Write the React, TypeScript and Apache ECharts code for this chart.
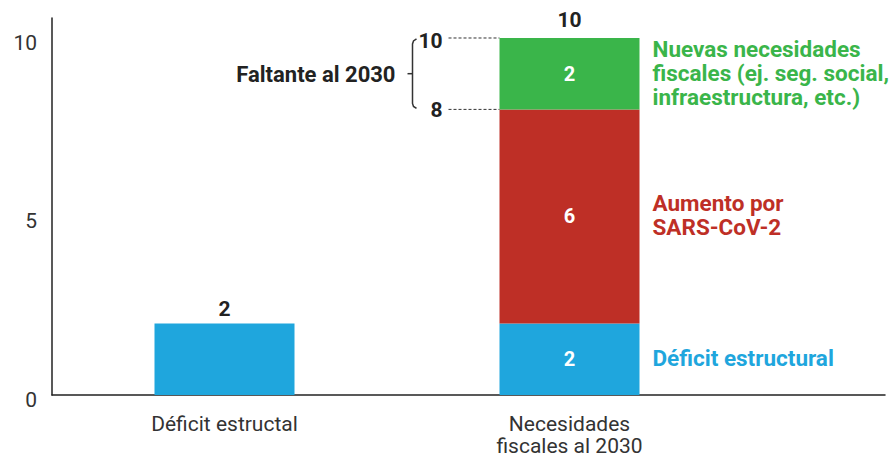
import React, { useEffect, useRef } from "react";
import * as echarts from "echarts";

const categories = ["Déficit estructal", "Necesidades\nfiscales al 2030"];
const deficitValues: (number | string)[] = [2, 2];
const sarsValues: (number | string)[] = ["-", 6];
const nuevasValues: (number | string)[] = ["-", 2];
const seriesNames = [
  "Déficit estructural",
  "Aumento por\nSARS-CoV-2",
  "Nuevas necesidades\nfiscales (ej. seg. social,\ninfraestructura, etc.)",
];
const seriesColors = ["#1FA6DD", "#BE2F26", "#3AB54A"];
const yTicks = [0, 5, 10];
const gapLabel = "Faltante al 2030";

const FONT = "Roboto";

export default function App() {
  const ref = useRef<HTMLDivElement>(null);
  useEffect(() => {
    if (!ref.current) return;
    document.body.style.margin = "0";
    const chart = echarts.init(ref.current, undefined, { renderer: "svg" });
    const insideLabel = {
      show: true,
      position: "inside",
      color: "#fff",
      fontWeight: "bold",
      fontSize: 20,
      fontFamily: FONT,
    };
    const mkData = (vals: (number | string)[], topFirst: boolean) =>
      vals.map((v, i) =>
        i === 0 && topFirst
          ? {
              value: v,
              label: {
                show: true,
                position: "top",
                distance: 4,
                color: "#222",
                fontWeight: "bold",
                fontSize: 21,
                fontFamily: FONT,
              },
            }
          : { value: v, label: insideLabel }
      );
    const axisLineStyle = { color: "#222", width: 1.5 };
    chart.setOption({
      animation: false,
      textStyle: { fontFamily: FONT },
      grid: [
        { left: 52, width: 690, top: 18, bottom: 63 },
        { left: 52, right: 8, top: 18, bottom: 63 },
      ],
      xAxis: [
        {
          type: "category",
          gridIndex: 0,
          data: categories,
          axisLine: { show: false },
          axisTick: { show: false },
          axisLabel: {
            fontSize: 21,
            color: "#333",
            fontFamily: FONT,
            margin: 18,
            lineHeight: 22,
          },
        },
        {
          type: "value",
          gridIndex: 1,
          min: 0,
          max: 1,
          axisLine: { show: true, lineStyle: axisLineStyle },
          axisTick: { show: false },
          axisLabel: { show: false },
          splitLine: { show: false },
        },
      ],
      yAxis: [
        {
          type: "value",
          gridIndex: 0,
          min: 0,
          max: 10.56,
          interval: 5,
          axisLine: { show: true, lineStyle: axisLineStyle },
          axisTick: { show: false },
          splitLine: { show: false },
          axisLabel: {
            fontSize: 21,
            color: "#333",
            fontFamily: FONT,
            margin: 15,
            verticalAlign: "top",
            lineHeight: 10,
            showMaxLabel: false,
            formatter: (v: number) => (yTicks.includes(v) ? String(v) : ""),
          },
        },
        {
          type: "value",
          gridIndex: 1,
          min: 0,
          max: 1,
          show: false,
        },
      ],
      series: [
        {
          type: "bar",
          name: seriesNames[0],
          stack: "a",
          barWidth: 140,
          xAxisIndex: 0,
          yAxisIndex: 0,
          itemStyle: { color: seriesColors[0] },
          data: mkData(deficitValues, true),
        },
        {
          type: "bar",
          name: seriesNames[1],
          stack: "a",
          barWidth: 140,
          xAxisIndex: 0,
          yAxisIndex: 0,
          itemStyle: { color: seriesColors[1] },
          data: mkData(sarsValues, false),
        },
        {
          type: "bar",
          name: seriesNames[2],
          stack: "a",
          barWidth: 140,
          xAxisIndex: 0,
          yAxisIndex: 0,
          itemStyle: { color: seriesColors[2] },
          data: mkData(nuevasValues, false),
        },
      ],
    });

    // annotations derived from data via the chart's own scales
    const idx = 1;
    const segs = [deficitValues[idx], sarsValues[idx], nuevasValues[idx]].map(
      (v) => (typeof v === "number" ? v : 0)
    );
    const total = segs.reduce((a, b) => a + b, 0);
    const gapBottom = total - segs[2];
    const px = (v: number) =>
      chart.convertToPixel({ xAxisIndex: 0, yAxisIndex: 0 }, [idx, v]) as number[];
    const cx = px(0)[0];
    const barLeft = cx - 70;
    const barRight = cx + 70;
    const yTop = px(total)[1];
    const yGapB = px(gapBottom)[1];

    const graphics: any[] = [];
    graphics.push({
      type: "text",
      x: cx,
      y: yTop - 18,
      style: {
        text: String(total),
        fill: "#222",
        font: `bold 21px ${FONT}`,
        textAlign: "center",
        textVerticalAlign: "middle",
      },
    });
    let cum = 0;
    segs.forEach((s, i) => {
      const mid = cum + s / 2;
      cum += s;
      graphics.push({
        type: "text",
        x: barRight + 13,
        y: px(mid)[1] - 1,
        style: {
          text: seriesNames[i],
          fill: seriesColors[i],
          font: `bold 22.5px ${FONT}`,
          lineHeight: 24,
          textAlign: "left",
          textVerticalAlign: "middle",
        },
      });
    });
    [
      [total, yTop, 3],
      [gapBottom, yGapB, 1],
    ].forEach(([v, y, dy]) => {
      graphics.push({
        type: "line",
        shape: { x1: barLeft - 51, y1: y, x2: barLeft, y2: y },
        style: { stroke: "#333", lineWidth: 1, lineDash: [3, 2] },
      });
      graphics.push({
        type: "text",
        x: barLeft - 57,
        y: y + dy,
        style: {
          text: String(v),
          fill: "#222",
          font: `bold 21px ${FONT}`,
          textAlign: "right",
          textVerticalAlign: "middle",
        },
      });
    });
    const bx = barLeft - 87;
    const ym = (yTop + yGapB) / 2;
    graphics.push({
      type: "polyline",
      shape: {
        points: [
          [bx + 4, yTop + 1],
          [bx + 1, yTop + 3],
          [bx, yTop + 6],
          [bx, yGapB - 6],
          [bx + 1, yGapB - 3],
          [bx + 4, yGapB - 1],
        ],
      },
      style: { stroke: "#333", lineWidth: 1.5, fill: null },
    });
    graphics.push({
      type: "line",
      shape: { x1: bx - 5, y1: ym, x2: bx, y2: ym },
      style: { stroke: "#333", lineWidth: 1.5 },
    });
    graphics.push({
      type: "text",
      x: bx - 17,
      y: ym + 1,
      style: {
        text: gapLabel,
        fill: "#222",
        font: `bold 22px ${FONT}`,
        textAlign: "right",
        textVerticalAlign: "middle",
      },
    });
    chart.setOption({ graphic: graphics });

    return () => chart.dispose();
  }, []);
  return <div ref={ref} style={{ width: 893, height: 458 }} />;
}
